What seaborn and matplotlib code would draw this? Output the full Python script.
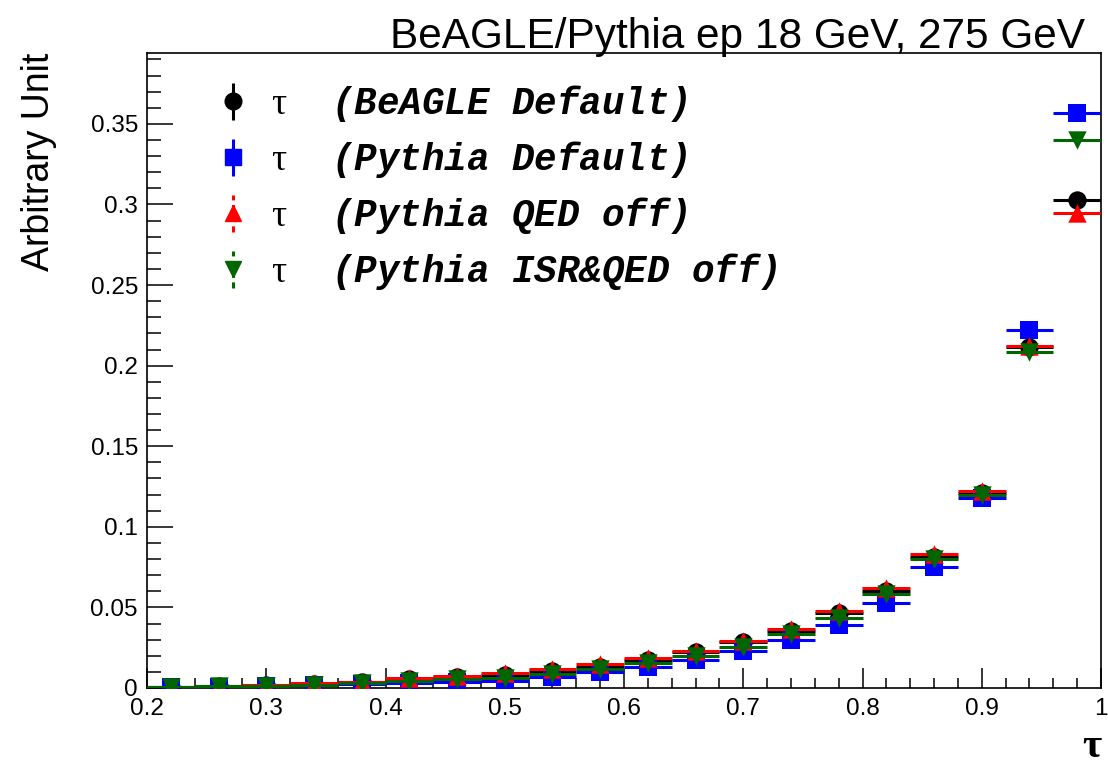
import numpy as np
import pandas as pd
import matplotlib
matplotlib.use("Agg")
import matplotlib.pyplot as plt
import seaborn as sns
from matplotlib.ticker import MultipleLocator, FixedLocator, FixedFormatter
from matplotlib.font_manager import FontProperties

# ---------------- data ----------------
tau_centers = [0.22, 0.26, 0.30, 0.34, 0.38, 0.42, 0.46, 0.50, 0.54, 0.58,
               0.62, 0.66, 0.70, 0.74, 0.78, 0.82, 0.86, 0.90, 0.94, 0.98]
bin_half_width = 0.02

beagle_default = [0.0007, 0.0012, 0.0019, 0.0025, 0.0035, 0.0054, 0.0066, 0.0081, 0.0107, 0.0132,
                  0.0174, 0.0222, 0.0284, 0.0356, 0.0464, 0.0604, 0.0815, 0.1210, 0.2118, 0.3030]
pythia_default = [0.0005, 0.0008, 0.0011, 0.0017, 0.0023, 0.0033, 0.0039, 0.0045, 0.0066, 0.0098,
                  0.0132, 0.0176, 0.0230, 0.0296, 0.0391, 0.0526, 0.0753, 0.1180, 0.2224, 0.3565]
pythia_qed_off = [0.0008, 0.0014, 0.0021, 0.0030, 0.0039, 0.0060, 0.0076, 0.0091, 0.0118, 0.0149,
                  0.0184, 0.0232, 0.0294, 0.0366, 0.0480, 0.0623, 0.0832, 0.1224, 0.2120, 0.2950]
pythia_isr_qed_off = [0.0005, 0.0010, 0.0015, 0.0021, 0.0029, 0.0045, 0.0056, 0.0064, 0.0087, 0.0118,
                      0.0155, 0.0201, 0.0257, 0.0335, 0.0435, 0.0586, 0.0803, 0.1200, 0.2087, 0.3400]

series_names = ["(BeAGLE Default)", "(Pythia Default)", "(Pythia QED off)", "(Pythia ISR&QED off)"]
series_values = [beagle_default, pythia_default, pythia_qed_off, pythia_isr_qed_off]
series_colors = ["#000000", "#0000ff", "#ff0000", "#006600"]
series_markers = ["o", "s", "^", "v"]
legend_linestyles = ["-", "-", (0, (2, 1.5)), (0, (2, 1.5))]

x_ticks = [0.2, 0.3, 0.4, 0.5, 0.6, 0.7, 0.8, 0.9, 1.0]
x_ticklabels = ["0.2", "0.3", "0.4", "0.5", "0.6", "0.7", "0.8", "0.9", "1"]
y_ticks = [0, 0.05, 0.1, 0.15, 0.2, 0.25, 0.3, 0.35]
y_ticklabels = ["0", "0.05", "0.1", "0.15", "0.2", "0.25", "0.3", "0.35"]

title_text = "BeAGLE/Pythia ep 18 GeV, 275 GeV"
y_label = "Arbitrary Unit"
x_label = "τ"

# ---------------- style ----------------
sns.set_theme(style="ticks")
plt.rcParams["font.family"] = ["Liberation Sans", "DejaVu Sans"]
plt.rcParams["text.color"] = "black"
plt.rcParams["axes.labelcolor"] = "black"
plt.rcParams["xtick.color"] = "black"
plt.rcParams["ytick.color"] = "black"
plt.rcParams["mathtext.fontset"] = "custom"
plt.rcParams["mathtext.rm"] = "Liberation Serif"
plt.rcParams["mathtext.it"] = "Liberation Serif:italic"
plt.rcParams["mathtext.bf"] = "Liberation Serif:bold"

fig = plt.figure(figsize=(11.08, 7.65), dpi=100)
ax = fig.add_axes([147 / 1108, 1 - 688 / 765, (1101 - 147) / 1108, (688 - 53) / 765])

frames = []
for name, vals in zip(series_names, series_values):
    frames.append(pd.DataFrame({"tau": tau_centers, "value": vals, "series": name}))
df = pd.concat(frames, ignore_index=True)

for i, (name, color, marker) in enumerate(zip(series_names, series_colors, series_markers)):
    sub = df[df["series"] == name]
    ax.errorbar(sub["tau"], sub["value"], xerr=bin_half_width, fmt="none",
                ecolor=color, elinewidth=2.2, zorder=3 + 2 * i)
    sns.scatterplot(data=sub, x="tau", y="value", ax=ax, color=color, marker=marker,
                    s=175, linewidth=0, zorder=4 + 2 * i, legend=False)

ax.set_xlim(0.2, 1.0)
ax.set_ylim(0, 0.394)

ax.xaxis.set_major_locator(FixedLocator(x_ticks))
ax.xaxis.set_major_formatter(FixedFormatter(x_ticklabels))
ax.xaxis.set_minor_locator(MultipleLocator(0.02))
ax.yaxis.set_major_locator(FixedLocator(y_ticks))
ax.yaxis.set_major_formatter(FixedFormatter(y_ticklabels))
ax.yaxis.set_minor_locator(MultipleLocator(0.01))

ax.tick_params(axis="x", which="major", direction="in", length=14.5, width=1.1,
               labelsize=17.5, pad=7, top=False, colors="black")
ax.tick_params(axis="x", which="minor", direction="in", length=7.2, width=1.1, top=False,
               colors="black")
ax.tick_params(axis="y", which="major", direction="in", length=19, width=1.1,
               labelsize=17.5, pad=6.5, right=False, colors="black")
ax.tick_params(axis="y", which="minor", direction="in", length=10, width=1.1, right=False,
               colors="black")

for sp in ax.spines.values():
    sp.set_visible(True)
    sp.set_color("black")
    sp.set_linewidth(1.2)

ax.set_xlabel(x_label, loc="right", fontsize=30, family="Liberation Serif",
              fontweight="bold", labelpad=6, color="black")
ax.set_ylabel(y_label, loc="top", fontsize=27, labelpad=24, color="black")
ax.grid(False)

fig.text(1085 / 1108, 1 - 37 / 765, title_text, ha="right", va="center", fontsize=30.5,
         color="black")

# legend: markers with vertical error bars only
handles = []
for color, marker, ls in zip(series_colors, series_markers, legend_linestyles):
    h = ax.errorbar([np.nan], [np.nan], yerr=[[0.0], [0.0]], fmt=marker, color=color,
                    ecolor=color, elinewidth=2.2, markersize=12, linestyle="none")
    h[2][0].set_linestyle(ls)
    handles.append(h)
labels = [r"$\mathrm{\tau}$  " + n for n in series_names]
leg_font = FontProperties(family="Liberation Mono", weight="bold", style="italic", size=27)
leg = ax.legend(handles, labels, loc="upper left", bbox_to_anchor=(0.071, 0.952),
                frameon=False, prop=leg_font, handlelength=1.0, handletextpad=0.5,
                labelspacing=0.4, borderpad=0, borderaxespad=0)
for t in leg.get_texts():
    t.set_color("black")

fig.savefig("out.png", dpi=100)
